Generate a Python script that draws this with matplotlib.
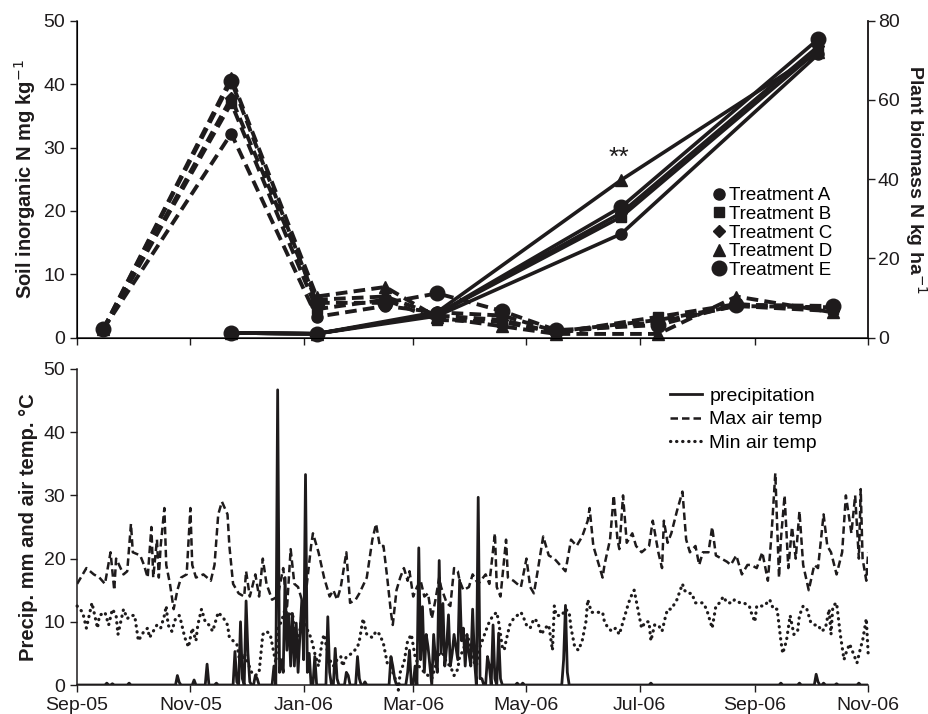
import numpy as np
import pandas as pd
import matplotlib
matplotlib.use("Agg")
import matplotlib.pyplot as plt
import matplotlib.dates as mdates
from matplotlib.lines import Line2D

plt.rcParams['font.family'] = ['Liberation Sans', 'DejaVu Sans']

INK = '#1e1b1c'

# --- top panel: soil inorganic N (left axis) and plant biomass N (right axis)
treatments = ['Treatment A', 'Treatment B', 'Treatment C', 'Treatment D', 'Treatment E']
soil_dates = ['2005-09-15', '2005-11-23', '2006-01-08', '2006-02-14', '2006-03-14',
              '2006-04-18', '2006-05-17', '2006-07-11', '2006-08-22', '2006-10-13']
soil_a = [1.3, 32.2, 3.3, 5.0, 4.0, 3.5, 1.0, 2.8, 5.0, 4.8]
soil_b = [1.3, 37.0, 4.5, 6.0, 2.8, 2.5, 0.8, 3.3, 5.3, 4.5]
soil_c = [1.3, 37.8, 6.0, 6.5, 3.5, 2.8, 0.8, 2.5, 5.0, 4.2]
soil_d = [1.3, 41.0, 6.5, 8.0, 3.2, 1.8, 0.6, 0.6, 6.5, 4.0]
soil_e = [1.3, 40.5, 5.5, 5.5, 7.0, 4.2, 1.2, 2.0, 5.2, 5.0]

plant_dates = ['2005-11-23', '2006-01-08', '2006-03-14', '2006-06-21', '2006-10-05']
plant_a = [1.2, 1.0, 5.5, 26.2, 71.5]
plant_b = [1.2, 1.0, 6.0, 30.5, 72.5]
plant_c = [1.2, 1.0, 6.0, 31.5, 73.5]
plant_d = [1.2, 1.0, 6.5, 39.8, 72.0]
plant_e = [1.2, 1.0, 6.0, 33.0, 75.3]

# --- bottom panel: weather (days after 1 Sep 2005)
tmax_day = [0, 5, 9, 12, 15, 18, 20, 21, 25, 27, 29, 30, 34, 36, 38, 40, 41, 43, 44, 45,
            47, 48, 50, 52, 54, 56, 59, 61, 62, 64, 68, 72, 74, 76, 78, 81, 82, 84, 87, 90,
            91, 93, 96, 98, 100, 102, 105, 108, 111, 113, 115, 117, 119, 121, 123, 126, 127, 130, 133, 136,
            138, 140, 142, 145, 147, 150, 152, 156, 159, 161, 163, 165, 167, 169, 170, 172, 174, 176, 178, 179,
            181, 183, 185, 187, 189, 191, 193, 195, 196, 199, 201, 203, 205, 206, 208, 211, 213, 216, 220, 222,
            225, 226, 228, 231, 232, 235, 239, 242, 244, 246, 248, 251, 254, 257, 260, 263, 266, 269, 272, 275,
            276, 278, 281, 283, 284, 287, 289, 291, 292, 294, 296, 299, 301, 304, 308, 310, 313, 315, 316, 318,
            320, 323, 326, 328, 330, 333, 335, 337, 340, 342, 344, 347, 350, 352, 355, 358, 361, 363, 366, 369,
            370, 372, 374, 376, 378, 379, 381, 383, 385, 387, 389, 391, 394, 397, 399, 402, 404, 406, 409, 412,
            414, 417, 419, 421, 422, 423, 425, 426]
tmax_c = [16, 18.5, 17.5, 17, 16, 21, 15, 20, 17.5, 18, 25.5, 21, 20.5, 19, 17, 25, 17, 23, 17, 22,
          28, 19, 16, 12, 15, 17, 17.5, 28, 19, 17, 17.5, 16.5, 19, 27, 29, 27, 22, 16, 14.5, 14,
          18, 14, 17.5, 14, 20, 16, 13.5, 14, 18.5, 12, 21.5, 16, 15.5, 13.5, 14, 22, 24, 21, 17, 14,
          15, 13.5, 15.5, 21, 13, 13.5, 14.5, 17, 23, 25.5, 22, 22, 17, 11.5, 9.5, 15, 17, 18.5, 16.5, 18,
          14, 15.5, 16.5, 14, 14.5, 10.5, 13.5, 17, 15.5, 13, 12.5, 18.5, 18, 16.5, 15, 15.5, 17.5, 16, 17.5, 16,
          24, 15.5, 14, 23, 17, 16.5, 15.5, 20, 15.5, 14.5, 18, 23.5, 20.5, 20, 19, 18, 23, 22, 23.5, 26,
          28, 22, 19, 17, 19, 23, 30, 23, 21.5, 30, 22.5, 24, 22, 21, 22, 26, 21, 18.5, 26, 22.5,
          24, 27.5, 30.6, 23, 21, 22, 19, 21, 21, 25, 20.5, 20, 19.5, 19, 20.5, 17.5, 19, 19, 18.5, 21,
          19.5, 16.5, 24, 33.5, 17, 23, 30, 18.5, 25, 20, 27.5, 19, 15, 19, 18.5, 27, 22, 21, 17.5, 21,
          30, 24, 30, 20, 31, 20, 16.5, 21]

tmin_day = [0, 3, 5, 8, 11, 12, 15, 17, 19, 21, 22, 25, 27, 29, 31, 33, 36, 38, 39, 41,
            43, 45, 47, 48, 49, 51, 53, 55, 56, 58, 60, 62, 64, 65, 67, 69, 71, 73, 74, 76,
            79, 81, 82, 84, 86, 88, 90, 92, 94, 96, 98, 100, 102, 104, 106, 107, 108, 110, 112, 114,
            116, 117, 119, 121, 123, 125, 126, 128, 130, 132, 133, 135, 136, 138, 140, 142, 143, 145, 148, 151,
            152, 154, 156, 159, 161, 163, 165, 167, 169, 170, 172, 173, 174, 176, 178, 180, 182, 184, 187, 189,
            191, 193, 195, 197, 199, 201, 203, 205, 206, 208, 210, 212, 213, 215, 217, 220, 222, 224, 226, 227,
            229, 230, 231, 233, 235, 237, 239, 240, 242, 244, 246, 248, 250, 252, 254, 256, 257, 258, 261, 263,
            265, 266, 268, 270, 272, 274, 275, 277, 280, 283, 284, 286, 288, 290, 292, 293, 295, 297, 299, 300,
            302, 304, 306, 308, 309, 311, 313, 315, 317, 318, 320, 323, 326, 327, 329, 331, 333, 335, 337, 339,
            341, 342, 344, 346, 348, 350, 353, 354, 357, 359, 362, 363, 365, 366, 369, 370, 373, 375, 377, 379,
            380, 382, 384, 386, 388, 389, 391, 393, 395, 397, 399, 401, 403, 405, 406, 407, 409, 411, 413, 414,
            416, 418, 420, 422, 423, 425, 426]
tmin_c = [12.5, 11.5, 9, 13, 9, 11, 11.5, 9.5, 12, 11, 8, 12, 10.5, 11, 11, 7, 8.5, 9, 7.5, 8.5,
          9.5, 9, 11, 12.5, 9.5, 8.5, 10.5, 11, 10, 7.5, 6, 9, 7, 9.5, 12, 10, 9.5, 8.5, 9.5, 11.5,
          10.5, 9.5, 7.5, 7, 6.5, 3, 5, 3.5, 2, 1.5, 2, 8, 8.5, 8, 5, 3.5, 9, 10, 12, 10.5,
          11.5, 8.5, 6.5, 11, 9.5, 8, 7.5, 5, 3, 7, 8, 5, 4, 3, 4, 4.5, 3, 4.5, 5, 6,
          7, 10.5, 8, 7.5, 8.5, 8, 6.5, 3.5, 3, 2, 0.5, -0.8, 2, 3.5, 7, 8, 4.5, 3, 2, 1.5,
          1, 3, 5, 5, 3.5, 3, 1.5, 2.5, 4.5, 5.5, 8, 6, 4, 3, 6, 8.5, 10, 11, 11.5, 10,
          6, 5.5, 7, 9.5, 10.5, 11, 11.5, 11, 9.5, 9, 10.5, 10, 8, 9, 9.5, 5.5, 12.5, 11, 11, 12,
          11.5, 9, 6, 5.5, 7, 10, 13.5, 11.5, 11.5, 11.5, 10, 9, 8.5, 9, 8, 9, 11, 13, 14.5, 15,
          12, 9, 10, 10, 7, 9.5, 9.5, 8.5, 11, 12, 12, 13.5, 16, 15, 14.5, 14.5, 13, 13, 13, 12,
          10, 9, 12.5, 13, 14, 13, 13, 13.5, 13, 13, 12.5, 11.5, 10, 12.5, 12.5, 12.5, 13.5, 12, 12, 7,
          5, 7, 11, 8, 8.5, 11, 12.5, 12, 10, 9.5, 9.5, 8.5, 9, 12, 8, 12.5, 13, 8, 4, 5,
          6.5, 5, 3.5, 6, 7, 10.5, 5]

rain_day = [16, 19, 28, 54, 55, 63, 70, 75, 85, 86, 88, 89, 91, 92, 93, 96, 97, 106, 108, 109,
            110, 111, 112, 113, 114, 115, 116, 117, 118, 119, 120, 121, 122, 123, 124, 125, 128, 135, 136, 139,
            140, 145, 146, 151, 152, 155, 169, 170, 171, 178, 179, 182, 184, 185, 186, 187, 188, 189, 190, 192,
            193, 194, 195, 196, 197, 198, 199, 200, 201, 202, 203, 204, 205, 206, 207, 208, 209, 210, 211, 212,
            213, 214, 216, 217, 218, 221, 222, 224, 225, 227, 228, 237, 240, 262, 263, 264, 309, 379, 389, 398,
            399, 402, 409, 421]
rain_mm = [0.3, 0.2, 0.3, 1.5, 0.4, 0.8, 3.3, 0.3, 5.3, 0.5, 10, 1, 13.3, 5, 0.5, 1.5, 1, 3, 46.7, 2,
           4, 2, 17, 5.5, 11.3, 3, 11.3, 3, 9.8, 2, 8, 13.4, 4, 33.3, 2, 5, 4.5, 10.8, 2, 5.8,
           1, 2, 1.5, 4.5, 1, 0.5, 4.5, 3, 1, 2, 5.5, 3, 21.7, 4, 12.4, 2, 8, 6, 3, 8,
           4, 2, 19.7, 5, 12.9, 3, 6, 11.1, 3, 5, 8, 6, 4, 16.6, 7, 9, 3, 8, 5, 3,
           12, 4, 29.7, 1, 1, 4.5, 3, 9.5, 1, 8.2, 1, 0.3, 0.3, 4, 12.6, 2, 0.3, 0.3, 0.3, 1.7,
           0.5, 0.3, 0.2, 0.3]

start = pd.Timestamp('2005-09-01')
end = pd.Timestamp('2006-11-01')
daily = pd.date_range(start, end, freq='D')
precip = np.zeros(len(daily))
for d, v in zip(rain_day, rain_mm):
    precip[d] = v
tmax_dates = start + pd.to_timedelta(tmax_day, unit='D')
tmin_dates = start + pd.to_timedelta(tmin_day, unit='D')

fig = plt.figure(figsize=(9.29, 7.14), dpi=100)
ax1 = fig.add_axes([0.083, 0.527, 0.8515, 0.444])
ax1r = ax1.twinx()
ax2 = fig.add_axes([0.083, 0.0406, 0.8515, 0.4426])

markers = [('o', 8), ('s', 7.5), ('D', 6), ('^', 9), ('o', 10.5)]
soil = [soil_a, soil_b, soil_c, soil_d, soil_e]
plant = [plant_a, plant_b, plant_c, plant_d, plant_e]
sd = pd.to_datetime(soil_dates)
pdt = pd.to_datetime(plant_dates)
for (m, ms), s_vals, p_vals in zip(markers, soil, plant):
    ax1.plot(sd, s_vals, color=INK, lw=2.8, linestyle=(0, (3.0, 1.6)),
             marker=m, ms=ms, mfc=INK, mec=INK, clip_on=False)
    ax1r.plot(pdt, p_vals, color=INK, lw=2.6, linestyle='-',
              marker=m, ms=ms, mfc=INK, mec=INK, clip_on=False)

ax1r.text(pd.Timestamp('2006-06-20'), 45.5, '**', fontsize=19, ha='center', va='center', color=INK)

handles = [Line2D([], [], linestyle='none', marker=m, ms=ms, color=INK) for m, ms in markers]
ax1.legend(handles, treatments, loc='center left', bbox_to_anchor=(0.802, 0.33),
           frameon=False, fontsize=13.5, handlelength=0.8, handletextpad=0.12,
           labelspacing=0.08, borderpad=0, borderaxespad=0)

ax2.plot(daily, precip, color=INK, lw=2.0, label='precipitation')
ax2.plot(tmax_dates, tmax_c, color=INK, lw=1.8, linestyle=(0, (3, 1.6)), label='Max air temp')
ax2.plot(tmin_dates, tmin_c, color=INK, lw=2.3, linestyle=(0, (0.1, 1.8)),
         dash_capstyle='round', label='Min air temp', clip_on=False)
ax2.legend(loc='center left', bbox_to_anchor=(0.75, 0.84), frameon=False, fontsize=14,
           handlelength=1.6, handletextpad=0.4, labelspacing=0.32, borderpad=0, borderaxespad=0)

ticks = pd.date_range(start, end, freq='2MS')
for ax in (ax1, ax2):
    ax.set_xlim(start, end)
    ax.set_xticks(ticks)
    ax.spines['top'].set_visible(False)
    ax.tick_params(direction='out', length=5, width=1, labelsize=14, colors=INK)
    for sp in ax.spines.values():
        sp.set_color(INK)
        sp.set_linewidth(1.1)
ax1.set_xticklabels([])
ax2.xaxis.set_major_formatter(mdates.DateFormatter('%b-%y'))
ax2.spines['right'].set_visible(False)
ax1r.spines['top'].set_visible(False)
ax1r.spines['right'].set_color(INK)
ax1r.spines['right'].set_linewidth(1.1)
ax1r.tick_params(direction='out', length=5, width=1, pad=2, labelsize=14, colors=INK)

ax1.set_ylim(0, 50)
ax1.set_yticks(range(0, 51, 10))
ax1r.set_ylim(0, 80)
ax1r.set_yticks(range(0, 81, 20))
ax2.set_ylim(0, 50)
ax2.set_yticks(range(0, 51, 10))

ax1.set_ylabel('Soil inorganic N mg kg$^{-1}$', fontsize=14.5, fontweight='bold', color=INK)
ax1r.set_ylabel('Plant biomass N kg ha$^{-1}$', fontsize=14, fontweight='bold', color=INK,
                rotation=270, ha='center', va='bottom')
ax2.set_ylabel('Precip. mm and air temp. °C', fontsize=14.5, fontweight='bold', color=INK)
ax1.yaxis.set_label_coords(-0.049, 0.5)
ax2.yaxis.set_label_coords(-0.049, 0.5)
ax1r.yaxis.set_label_coords(1.044, 0.5)

fig.savefig('out.png', dpi=100)
